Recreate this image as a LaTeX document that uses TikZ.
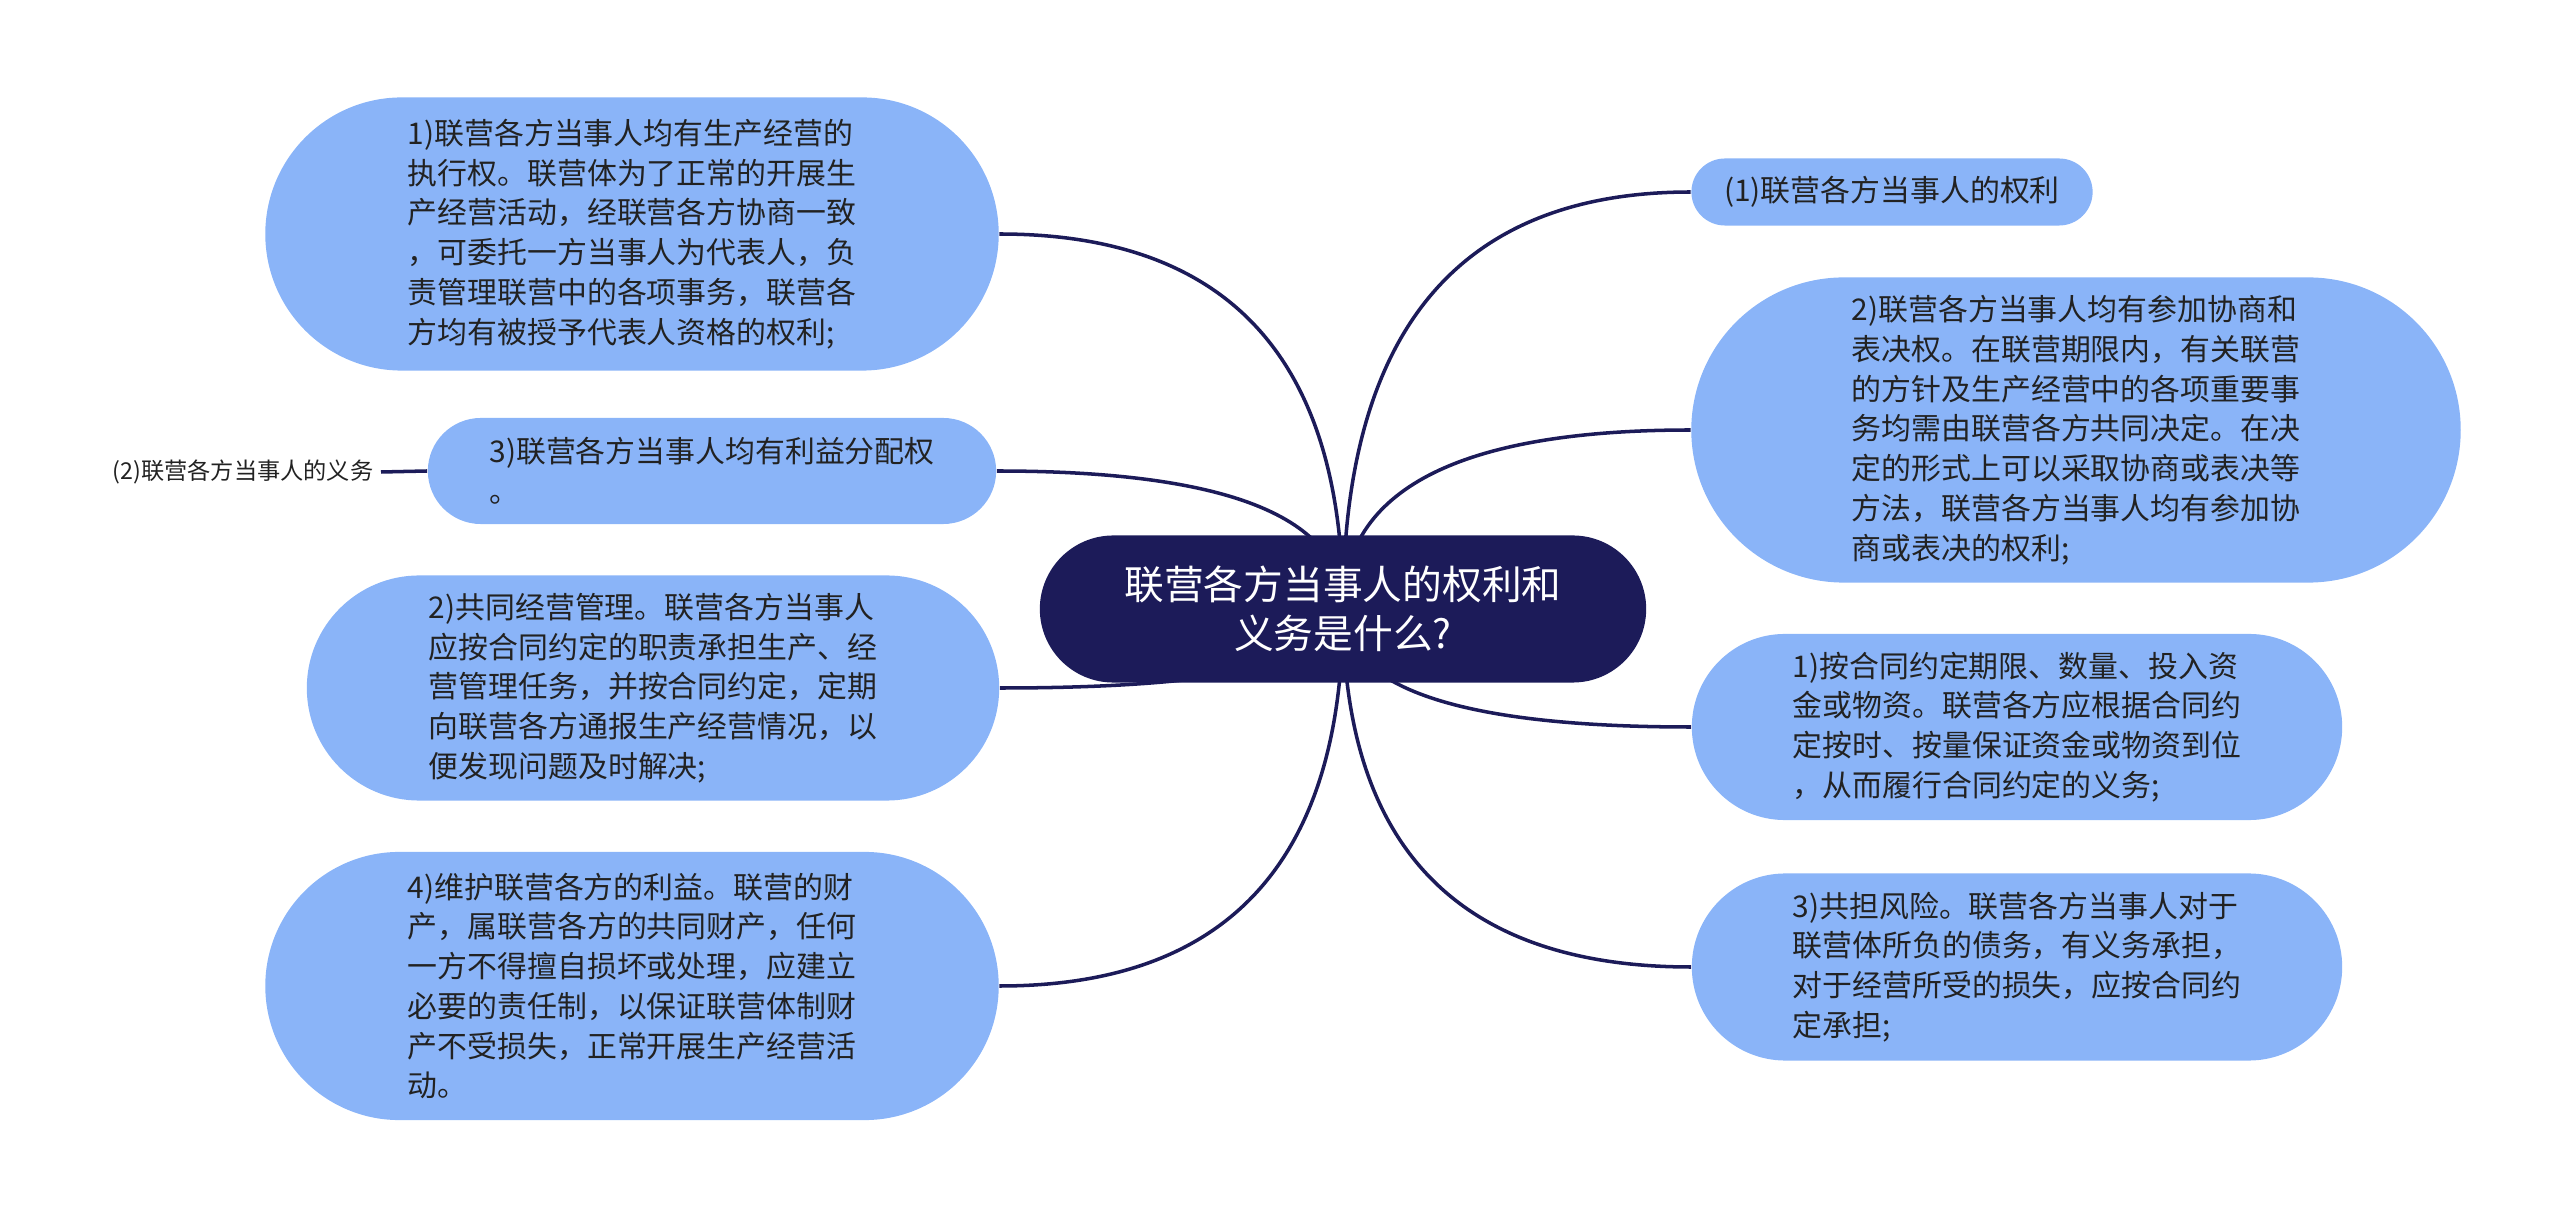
\documentclass[tikz,border=0pt]{standalone}
\usepackage{fontspec}
\usepackage{tikz}
\usetikzlibrary{shapes.misc, calc, backgrounds}
\newfontfamily\cjk{Noto Sans CJK SC}
\definecolor{boxblue}{HTML}{8AB4F8}
\definecolor{navy}{HTML}{1C1B59}
\definecolor{ink}{HTML}{222222}
\tikzset{
  topic/.style={rounded rectangle, fill=boxblue, text=ink, align=left, inner sep=0pt,
    font=\cjk\fontsize{8.5pt}{11.3pt}\selectfont},
  root/.style={rounded rectangle, fill=navy, text=white, align=center, inner sep=0pt,
    font=\cjk\fontsize{11.3pt}{13.9pt}\selectfont},
  link/.style={draw=navy, line width=1pt},
}
\begin{document}
\begin{tikzpicture}[x=0.01cm, y=-0.01cm]
  \useasboundingbox (0,0) rectangle (2560,1219);

  % centre
  \node[root, minimum width=6.06cm, minimum height=1.47cm] (c) at (1343,609)
    {联营各方当事人的权利和\\义务是什么?};

  % left side: duties
  \node[topic, minimum width=7.33cm, minimum height=2.73cm] (la) at (632,234)
    {1)联营各方当事人均有生产经营的\\执行权。联营体为了正常的开展生\\产经营活动，经联营各方协商一致\\，可委托一方当事人为代表人，负\\责管理联营中的各项事务，联营各\\方均有被授予代表人资格的权利;};
  \node[topic, minimum width=5.68cm, minimum height=1.06cm] (lb) at (712,471)
    {3)联营各方当事人均有利益分配权\\。};
  \node[topic, minimum width=6.92cm, minimum height=2.25cm] (lc) at (653,688)
    {2)共同经营管理。联营各方当事人\\应按合同约定的职责承担生产、经\\营管理任务，并按合同约定，定期\\向联营各方通报生产经营情况，以\\便发现问题及时解决;};
  \node[topic, minimum width=7.33cm, minimum height=2.68cm] (ld) at (632,986)
    {4)维护联营各方的利益。联营的财\\产，属联营各方的共同财产，任何\\一方不得擅自损坏或处理，应建立\\必要的责任制，以保证联营体制财\\产不受损失，正常开展生产经营活\\动。};
  \node[anchor=east, inner sep=2pt, text=ink, font=\cjk\fontsize{6.6pt}{8pt}\selectfont] (lab) at (381,472)
    {(2)联营各方当事人的义务};

  % right side: rights
  \node[topic, minimum width=4.01cm, minimum height=0.67cm] (ra) at (1892,192)
    {(1)联营各方当事人的权利};
  \node[topic, minimum width=7.69cm, minimum height=3.05cm] (rb) at (2076,430)
    {2)联营各方当事人均有参加协商和\\表决权。在联营期限内，有关联营\\的方针及生产经营中的各项重要事\\务均需由联营各方共同决定。在决\\定的形式上可以采取协商或表决等\\方法，联营各方当事人均有参加协\\商或表决的权利;};
  \node[topic, minimum width=6.5cm, minimum height=1.86cm] (rc) at (2017,727)
    {1)按合同约定期限、数量、投入资\\金或物资。联营各方应根据合同约\\定按时、按量保证资金或物资到位\\，从而履行合同约定的义务;};
  \node[topic, minimum width=6.5cm, minimum height=1.87cm] (rd) at (2017,967)
    {3)共担风险。联营各方当事人对于\\联营体所负的债务，有义务承担，\\对于经营所受的损失，应按合同约\\定承担;};

  \begin{scope}[on background layer]
    \foreach \n in {la,lb,lc,ld}
      \draw[link] (c.center) .. controls ($(c.center)!2/3!(c.center |- \n.east)$)
        and ($(\n.east)!2/3!(c.center |- \n.east)$) .. (\n.east);
    \foreach \n in {ra,rb,rc,rd}
      \draw[link] (c.center) .. controls ($(c.center)!2/3!(c.center |- \n.west)$)
        and ($(\n.west)!2/3!(c.center |- \n.west)$) .. (\n.west);
  \end{scope}
  \draw[link] (lab.east) -- (lb.west);
\end{tikzpicture}
\end{document}
